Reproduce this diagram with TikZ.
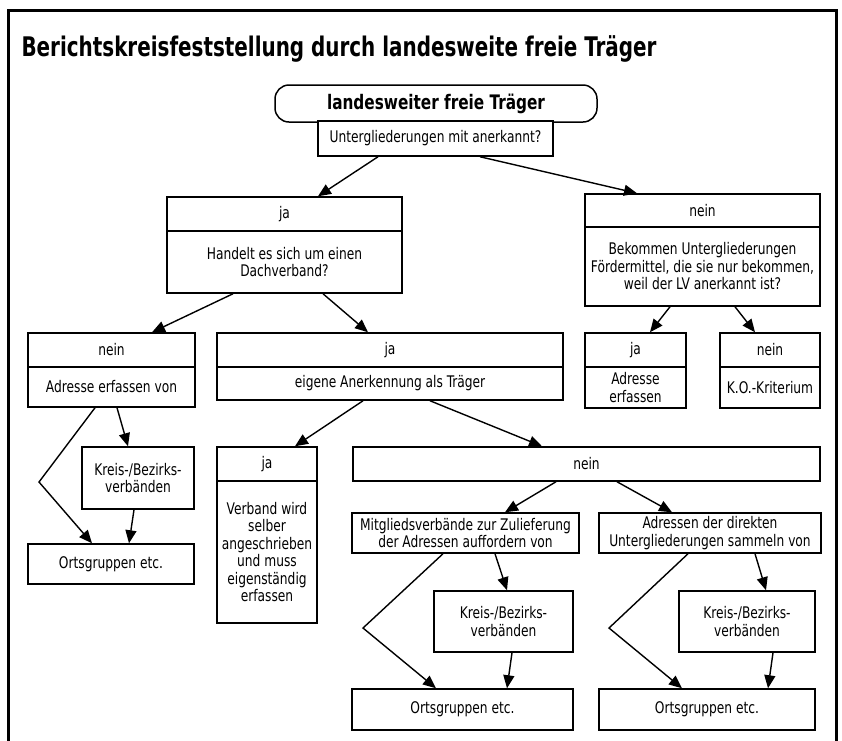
\documentclass[tikz,border=0pt]{standalone}
\usepackage{fontspec}
\setmainfont{DejaVu Sans Condensed}[FakeStretch=0.85]
\newfontfamily\titelfont{DejaVu Sans Condensed}[FakeStretch=0.82]
\usepackage{tikz}
\usetikzlibrary{arrows.meta}

\tikzset{
  box/.style={draw=black, fill=white, line width=1.5pt, inner sep=0pt, align=center,
    font=\fontsize{16}{17.5}\selectfont},
  arr/.style={line width=1.4pt, -{Triangle[length=13pt,width=11pt]}},
}

\begin{document}
\begin{tikzpicture}[x=1pt, y=-1pt]
  \useasboundingbox (0,0) rectangle (842,740);
	%# RAHMEN UND TITEL
  \draw[black, line width=3pt] (8,745) -- (8,10) -- (836,10) -- (836,745);
  \node[anchor=base west, font=\titelfont\bfseries\fontsize{27}{30}\selectfont] (titel) at (18,56) {Berichtskreisfeststellung durch landesweite freie Träger};

	%# OBERSTE EBENE
  \node[box, rounded corners=14pt, minimum width=322pt, minimum height=37pt, font=\bfseries\fontsize{20}{22}\selectfont] (traeger) at (436,103.5) {landesweiter freie Träger};
  \node[box, minimum width=235pt, minimum height=35pt] (frage) at (435.5,138.5) {Untergliederungen mit anerkannt?};

	%# JA / NEIN
  \node[box, minimum width=235pt, minimum height=34pt] (jaA) at (284.5,214) {ja};
  \node[box, minimum width=235pt, minimum height=62pt] (dach) at (284.5,262) {Handelt es sich um einen\\Dachverband?};
  \node[box, minimum width=235pt, minimum height=33pt] (neinA) at (702.5,210.5) {nein};
  \node[box, minimum width=235pt, minimum height=79pt] (foerder) at (702.5,266.5) {Bekommen Untergliederungen\\Fördermittel, die sie nur bekommen,\\weil der LV anerkannt ist?};
  \draw[arr] ([xshift=-57.5pt]frage.south) -- ([xshift=33.5pt]jaA.north);
  \draw[arr] ([xshift=44.5pt]frage.south) -- ([xshift=-65.5pt]neinA.north);

	%# DACHVERBAND?
  \node[box, minimum width=167pt, minimum height=34pt] (neinB) at (111.5,350) {nein};
  \node[box, minimum width=167pt, minimum height=40pt] (adrB) at (111.5,387) {Adresse erfassen von};
  \node[box, minimum width=346pt, minimum height=34pt] (jaB) at (390,350) {ja};
  \node[box, minimum width=346pt, minimum height=33pt] (eigen) at (390,383.5) {eigene Anerkennung als Träger};
  \draw[arr] ([xshift=-51.5pt]dach.south) -- ([xshift=40.5pt]neinB.north);
  \draw[arr] ([xshift=38.5pt]dach.south) -- ([xshift=-22pt]jaB.north);

	%# FOERDERMITTEL?
  \node[box, minimum width=101pt, minimum height=34pt] (jaC) at (635.5,350) {ja};
  \node[box, minimum width=101pt, minimum height=41pt] (adrC) at (635.5,387.5) {Adresse\\erfassen};
  \node[box, minimum width=100pt, minimum height=34pt] (neinC) at (770,350) {nein};
  \node[box, minimum width=100pt, minimum height=41pt] (ko) at (770,387.5) {K.O.-Kriterium};
  \draw[arr] ([xshift=-32.5pt]foerder.south) -- ([xshift=14.5pt]jaC.north);
  \draw[arr] ([xshift=32.5pt]foerder.south) -- ([xshift=-15pt]neinC.north);

	%# ADRESSE ERFASSEN VON
  \node[box, minimum width=112pt, minimum height=62pt] (kreisB) at (138,478) {Kreis-/Bezirks-\\verbänden};
  \node[box, minimum width=166pt, minimum height=40pt] (ortsB) at (111,564) {Ortsgruppen etc.};
  \coordinate (knickB) at (39,482);
  \draw[arr] ([xshift=-16.5pt]adrB.south) -- (knickB) -- ([xshift=-19pt]ortsB.north);
  \draw[arr] ([xshift=5.5pt]adrB.south) -- ([xshift=-10pt]kreisB.north);
  \draw[arr] ([xshift=-4pt]kreisB.south) -- ([xshift=18pt]ortsB.north);

	%# EIGENE ANERKENNUNG
  \node[box, minimum width=100pt, minimum height=34pt] (jaD) at (267,464) {ja};
  \node[box, minimum width=100pt, minimum height=142pt] (selber) at (267,552) {Verband wird\\selber\\angeschrieben\\und muss\\eigenständig\\erfassen};
  \node[box, minimum width=467pt, minimum height=34pt] (neinD) at (586.5,464) {nein};
  \draw[arr] ([xshift=-27pt]eigen.south) -- ([xshift=28pt]jaD.north);
  \draw[arr] ([xshift=40pt]eigen.south) -- ([xshift=-44.5pt]neinD.north);

	%# MITGLIEDSVERBAENDE / DIREKTE UNTERGLIEDERUNGEN
  \node[box, minimum width=227pt, minimum height=40pt] (mitglied) at (465.5,533) {Mitgliedsverbände zur Zulieferung\\der Adressen auffordern von};
  \node[box, minimum width=222pt, minimum height=40pt] (direkt) at (710,533) {Adressen der direkten\\Untergliederungen sammeln von};
  \draw[arr] ([xshift=-30.5pt]neinD.south) -- ([xshift=39.5pt]mitglied.north);
  \draw[arr] ([xshift=30.5pt]neinD.south) -- ([xshift=-38pt]direkt.north);

  \node[box, minimum width=139pt, minimum height=61pt] (kreisM) at (503.5,621.5) {Kreis-/Bezirks-\\verbänden};
  \node[box, minimum width=221pt, minimum height=41pt] (ortsM) at (462.5,709.5) {Ortsgruppen etc.};
  \coordinate (knickM) at (363,628);
  \draw[arr] ([xshift=-22.5pt]mitglied.south) -- (knickM) -- ([xshift=-26.5pt]ortsM.north);
  \draw[arr] ([xshift=29.5pt]mitglied.south) -- ([xshift=3.5pt]kreisM.north);
  \draw[arr] ([xshift=8.5pt]kreisM.south) -- ([xshift=44.5pt]ortsM.north);

  \node[box, minimum width=136pt, minimum height=61pt] (kreisU) at (747,621.5) {Kreis-/Bezirks-\\verbänden};
  \node[box, minimum width=216pt, minimum height=41pt] (ortsU) at (707,709.5) {Ortsgruppen etc.};
  \coordinate (knickU) at (609,628);
  \draw[arr] ([xshift=-22pt]direkt.south) -- (knickU) -- ([xshift=-25pt]ortsU.north);
  \draw[arr] ([xshift=45pt]direkt.south) -- ([xshift=19pt]kreisU.north);
  \draw[arr] ([xshift=26pt]kreisU.south) -- ([xshift=61pt]ortsU.north);
\end{tikzpicture}
\end{document}
